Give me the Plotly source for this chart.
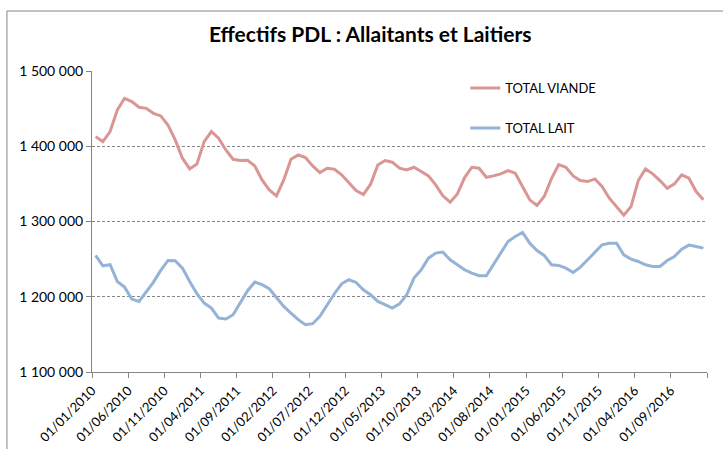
import plotly.graph_objects as go

tick_labels = ["01/01/2010", "01/06/2010", "01/11/2010", "01/04/2011", "01/09/2011",
               "01/02/2012", "01/07/2012", "01/12/2012", "01/05/2013", "01/10/2013",
               "01/03/2014", "01/08/2014", "01/01/2015", "01/06/2015", "01/11/2015",
               "01/04/2016", "01/09/2016"]

# monthly values, 01/2010 .. 01/2017
total_viande = [1412800, 1406200, 1419500, 1448200, 1463700, 1459300, 1451800, 1450400, 1443800, 1440300,
                1428300, 1408400, 1384100, 1369900, 1376500, 1406200, 1419500, 1410600, 1395100, 1382700,
                1381000, 1381400, 1373900, 1355300, 1342000, 1334100, 1355300, 1382700, 1388500, 1385000,
                1373900, 1365000, 1370800, 1369500, 1362000, 1350900, 1341100, 1335800, 1349600, 1375200,
                1381000, 1378800, 1370800, 1368600, 1372100, 1366400, 1360600, 1348700, 1334100, 1325700,
                1336700, 1358400, 1372100, 1370800, 1358800, 1360600, 1363300, 1367700, 1364200, 1346500,
                1328800, 1321300, 1333200, 1357000, 1375500, 1372100, 1360600, 1354400, 1353100, 1356600,
                1346500, 1331000, 1319900, 1308400, 1319900, 1354400, 1369900, 1363300, 1354400, 1344200,
                1350000, 1362000, 1357500, 1339800, 1328800]

total_lait = [1254900, 1241100, 1242500, 1220300, 1212800, 1196900, 1193800, 1207100, 1219500, 1235000,
              1248200, 1247800, 1238000, 1220300, 1204000, 1191600, 1184900, 1171700, 1170400, 1176100,
              1191600, 1208000, 1219500, 1216000, 1210600, 1198200, 1187200, 1178300, 1169500, 1162800,
              1164200, 1174100, 1189400, 1204000, 1217200, 1222600, 1219000, 1209300, 1202600, 1193800,
              1189400, 1184900, 1190500, 1202600, 1224800, 1235800, 1251300, 1258000, 1259300, 1249100,
              1242500, 1235800, 1231400, 1227900, 1227900, 1242500, 1258000, 1273400, 1280100, 1285400,
              1271200, 1261500, 1254900, 1242500, 1241600, 1238000, 1232300, 1239400, 1249100, 1258800,
              1269000, 1271200, 1271200, 1255700, 1250000, 1246900, 1242500, 1240300, 1240300, 1248200,
              1253500, 1263300, 1268600, 1266800, 1264600]

months = list(range(len(total_viande)))

fig = go.Figure()
fig.add_trace(go.Scatter(x=months, y=total_viande, mode="lines", name="TOTAL VIANDE",
                         line=dict(color="#D99694", width=3), legendgroup="a"))
fig.add_trace(go.Scatter(x=months, y=total_lait, mode="lines", name="TOTAL LAIT",
                         line=dict(color="#95B3D7", width=3), legendgroup="b"))

tickvals = [-0.5 + 5 * k for k in range(len(tick_labels) + 1)]
ticktext = tick_labels + [""]

fig.update_layout(
    width=723, height=449,
    paper_bgcolor="white", plot_bgcolor="white",
    margin=dict(l=92, r=16, t=71, b=77, autoexpand=False),
    title=dict(text="<b>Effectifs PDL : Allaitants et Laitiers</b>", x=0.512, xanchor="center",
               y=0.922, yanchor="middle",
               font=dict(family="Lato, Carlito, sans-serif", size=21, color="#000000")),
    font=dict(family="Lato, Carlito, sans-serif", size=12, color="#000000"),
    showlegend=True,
    legend=dict(x=0.607, y=0.993, xanchor="left", yanchor="top", bgcolor="rgba(0,0,0,0)",
                tracegroupgap=20, font=dict(size=13, color="#000000"), itemwidth=30),
    xaxis=dict(range=[-0.5, 84.5], tickmode="array", tickvals=tickvals, ticktext=ticktext,
               tickangle=-45, showgrid=False, zeroline=False, showline=True, linecolor="#868686",
               linewidth=1, ticks="outside", ticklen=5, tickcolor="#868686", automargin=False,
               tickfont=dict(size=13, color="#000000")),
    yaxis=dict(range=[1100000, 1500000], tickmode="array",
               tickvals=[1100000, 1200000, 1300000, 1400000, 1500000],
               ticktext=["1 100 000", "1 200 000", "1 300 000", "1 400 000", "1 500 000"],
               showgrid=True, gridcolor="#868686", griddash="3px,2px", gridwidth=1,
               zeroline=False, showline=True, linecolor="#868686", linewidth=1,
               ticks="outside", ticklen=5, tickcolor="#868686", automargin=False,
               tickfont=dict(size=14, color="#000000")),
    shapes=[dict(type="rect", xref="paper", yref="paper", x0=-0.1383, x1=1.05, y0=-0.3, y1=1.1993,
                 line=dict(color="#868686", width=1), fillcolor="rgba(0,0,0,0)", layer="below")],
)

fig.write_html("out.html", config={"displayModeBar": False},
               post_script="document.body.style.margin='0';")
